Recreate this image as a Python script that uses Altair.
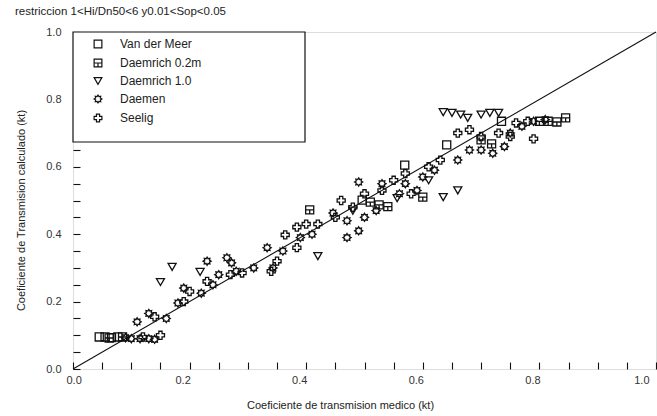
import altair as alt
import pandas as pd

FONT = "Liberation Sans"
INK = "#111111"

series_names = ["Van der Meer", "Daemrich 0.2m", "Daemrich 1.0", "Daemen", "Seelig"]

vdm_x = [0.045, 0.055, 0.066, 0.077, 0.496, 0.569, 0.641, 0.735]
vdm_y = [0.095, 0.095, 0.093, 0.095, 0.501, 0.605, 0.665, 0.735]

d02_x = [0.062, 0.085, 0.406, 0.510, 0.525, 0.540, 0.600, 0.700, 0.718, 0.800, 0.815, 0.830, 0.845]
d02_y = [0.092, 0.095, 0.472, 0.495, 0.487, 0.482, 0.510, 0.680, 0.668, 0.735, 0.735, 0.733, 0.745]

d10_x = [0.150, 0.170, 0.218, 0.420, 0.556, 0.610, 0.635, 0.660, 0.635, 0.650, 0.665, 0.677, 0.700, 0.715, 0.730, 0.480]
d10_y = [0.258, 0.303, 0.288, 0.335, 0.507, 0.560, 0.510, 0.530, 0.762, 0.760, 0.755, 0.745, 0.755, 0.760, 0.760, 0.470]

dae_x = [0.090, 0.100, 0.115, 0.130, 0.140, 0.110, 0.130, 0.160, 0.180, 0.190, 0.220, 0.240,
         0.230, 0.264, 0.272, 0.250, 0.280, 0.310, 0.343, 0.333, 0.360, 0.390, 0.410,
         0.470, 0.490, 0.446, 0.470, 0.500, 0.520, 0.490, 0.530, 0.560, 0.570, 0.600,
         0.620, 0.590, 0.660, 0.680, 0.700, 0.720, 0.740, 0.750, 0.770, 0.790, 0.810]
dae_y = [0.093, 0.090, 0.090, 0.090, 0.088, 0.140, 0.165, 0.150, 0.196, 0.240, 0.225, 0.250,
         0.320, 0.330, 0.315, 0.280, 0.290, 0.300, 0.300, 0.360, 0.350, 0.390, 0.400,
         0.390, 0.410, 0.463, 0.440, 0.450, 0.470, 0.555, 0.550, 0.520, 0.550, 0.570,
         0.590, 0.530, 0.620, 0.650, 0.650, 0.640, 0.660, 0.700, 0.720, 0.735, 0.740]

see_x = [0.120, 0.150, 0.140, 0.190, 0.200, 0.230, 0.270, 0.290, 0.340, 0.350, 0.364, 0.384,
         0.400, 0.384, 0.420, 0.450, 0.460, 0.480, 0.500, 0.530, 0.550, 0.570, 0.580,
         0.610, 0.630, 0.660, 0.680, 0.700, 0.730, 0.750, 0.790, 0.760, 0.780]
see_y = [0.095, 0.100, 0.155, 0.200, 0.230, 0.260, 0.280, 0.285, 0.290, 0.320, 0.398, 0.421,
         0.430, 0.360, 0.430, 0.450, 0.500, 0.480, 0.520, 0.530, 0.560, 0.580, 0.520,
         0.600, 0.620, 0.700, 0.710, 0.690, 0.700, 0.690, 0.683, 0.730, 0.735]

diag_x = [0.0, 1.0]
diag_y = [0.0, 1.0]

tick_values = [0.0, 0.05, 0.1, 0.15, 0.2, 0.25, 0.3, 0.35, 0.4, 0.45, 0.5,
               0.55, 0.6, 0.65, 0.7, 0.75, 0.8, 0.85, 0.9, 0.95, 1.0]

title_text = "restriccion 1<Hi/Dn50<6 y0.01<Sop<0.05"
x_title = "Coeficiente de transmision medico (kt)"
y_title = "Coeficiente de Transmision calculado (kt)"

rows = []
for name, xs, ys in [
    (series_names[0], vdm_x, vdm_y),
    (series_names[1], d02_x, d02_y),
    (series_names[2], d10_x, d10_y),
    (series_names[3], dae_x, dae_y),
    (series_names[4], see_x, see_y),
]:
    for a, b in zip(xs, ys):
        rows.append({"x": a, "y": b, "serie": name})
df = pd.DataFrame(rows)

W, H = 583, 337
TK = 7
xscale = alt.Scale(domain=[0, 1], nice=False, zero=False)
yscale = alt.Scale(domain=[0, 1], nice=False, zero=False)

sqcross = "M-1,-1H1V1H-1Z M-1,0H1 M0,0V1"
sun = ("M0,-1L0.25,-0.6L0.7,-0.7L0.6,-0.25L1,0L0.6,0.25L0.7,0.7L0.25,0.6"
       "L0,1L-0.25,0.6L-0.7,0.7L-0.6,0.25L-1,0L-0.6,-0.25L-0.7,-0.7L-0.25,-0.6Z")
shapes = ["square", sqcross, "triangle-down", sun, "cross"]

label_expr = ("abs(datum.value * 5 - round(datum.value * 5)) < 0.001 ? "
              "format(datum.value, '.1f') : ''")

x_axis = alt.Axis(values=tick_values, labelExpr=label_expr, ticks=True, tickSize=TK,
                  tickColor=INK, tickWidth=1.1, offset=-TK, domain=False, grid=False,
                  labelFlush=True, labelOffset=-7, labelPadding=5, labelFontSize=11, labelFont=FONT,
                  labelColor="#333", titleFont=FONT, titleFontSize=11, titleFontWeight="normal",
                  titleColor="#222", titleX=267, titleY=30 + TK)
y_axis = alt.Axis(values=tick_values, labelExpr=label_expr, ticks=True, tickSize=TK,
                  tickColor=INK, tickWidth=1.1, offset=-TK, domain=False, grid=False,
                  labelFlush=False, labelPadding=12, labelFontSize=11, labelFont=FONT,
                  labelColor="#333", titleFont=FONT, titleFontSize=11, titleFontWeight="normal",
                  titleColor="#222", titleX=-47 - TK, titleY=178, titleBaseline="bottom")

points = alt.Chart(df).mark_point(filled=False, color=INK, strokeWidth=1.3, size=65, opacity=1).encode(
    x=alt.X("x:Q", scale=xscale, title=x_title, axis=x_axis),
    y=alt.Y("y:Q", scale=yscale, title=y_title, axis=y_axis),
    shape=alt.Shape("serie:N", scale=alt.Scale(domain=series_names, range=shapes),
                    legend=alt.Legend(orient="none", legendX=19, legendY=6, title=None,
                                      labelFont=FONT, labelFontSize=12, labelColor="#222",
                                      symbolSize=60, symbolStrokeWidth=1.2, symbolStrokeColor=INK,
                                      symbolFillColor="transparent", rowPadding=5,
                                      labelOffset=16, padding=0)),
)

diag = alt.Chart(pd.DataFrame({"x": diag_x, "y": diag_y})).mark_line(
    color=INK, strokeWidth=1.1
).encode(
    x=alt.X("x:Q", scale=xscale, title=x_title, axis=x_axis),
    y=alt.Y("y:Q", scale=yscale, title=y_title, axis=y_axis),
)

legend_box = alt.Chart(pd.DataFrame({"k": [0]})).mark_rect(
    fill="white", stroke=INK, strokeWidth=1.2
).encode(x=alt.value(0), x2=alt.value(232), y=alt.value(0), y2=alt.value(110))

chart = alt.layer(points, diag, legend_box).properties(
    width=W, height=H,
    autosize="none",
    padding={"left": 73, "top": 32, "right": 1, "bottom": 47},
    title=alt.TitleParams(title_text, anchor="start", font=FONT, fontSize=11.5, fontWeight="normal",
                          color="#222", offset=9, dx=0),
).configure_view(stroke=INK, strokeWidth=1.5).configure(background="white")

chart.save("out.html", embed_options={"renderer": "svg", "actions": False})
